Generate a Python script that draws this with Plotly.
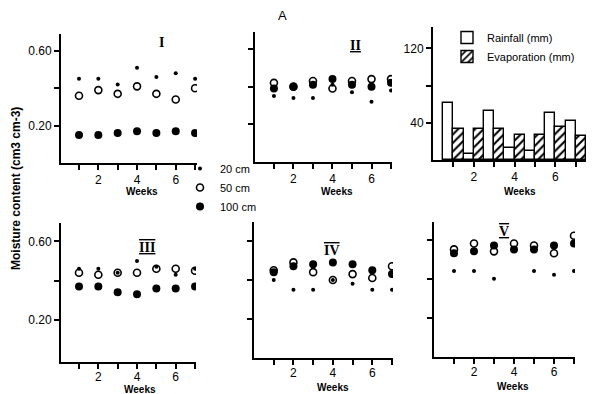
import plotly.graph_objects as go

# The page body has an 8 px default margin: the figure is sized to the
# remaining view, and reference pixel positions are shifted accordingly.
PAGE_W, PAGE_H, BODY = 599, 394, 8
W, H = PAGE_W - BODY, PAGE_H - BODY

weeks = [1, 2, 3, 4, 5, 6, 7]
week_ticks = [1, 2, 3, 4, 5, 6, 7]
week_ticktext = ["", "2", "", "4", "", "6", ""]

# Soil moisture (cm3 cm-3) per site, depth 20 / 50 / 100 cm
site_I_20 = [0.45, 0.45, 0.42, 0.51, 0.46, 0.48, 0.45]
site_I_50 = [0.36, 0.39, 0.37, 0.41, 0.37, 0.34, 0.40]
site_I_100 = [0.15, 0.15, 0.16, 0.17, 0.16, 0.17, 0.16]

site_II_20 = [0.35, 0.34, 0.34, 0.41, 0.37, 0.32, 0.38]
site_II_50 = [0.42, 0.40, 0.43, 0.39, 0.43, 0.44, 0.44]
site_II_100 = [0.39, 0.40, 0.41, 0.44, 0.41, 0.40, 0.42]

site_III_20 = [0.46, 0.46, 0.44, 0.50, 0.47, 0.43, 0.46]
site_III_50 = [0.44, 0.43, 0.44, 0.44, 0.46, 0.46, 0.45]
site_III_100 = [0.37, 0.37, 0.34, 0.33, 0.36, 0.36, 0.37]

site_IV_20 = [0.40, 0.35, 0.35, 0.40, 0.38, 0.35, 0.35]
site_IV_50 = [0.45, 0.49, 0.44, 0.40, 0.43, 0.41, 0.47]
site_IV_100 = [0.44, 0.47, 0.48, 0.49, 0.48, 0.45, 0.43]

site_V_20 = [0.44, 0.44, 0.40, None, 0.44, 0.42, 0.44]
site_V_50 = [0.55, 0.58, 0.54, 0.58, 0.57, 0.53, 0.62]
site_V_100 = [0.53, 0.54, 0.57, 0.55, 0.55, 0.57, 0.58]

rainfall = [61, 6, 53, 13, 10, 51, 42]
evaporation = [33, 33, 33, 27, 27, 36, 26]

moist_ticks = [0.2, 0.4, 0.6]
moist_ticktext = ["0.20", "", "0.60"]
rain_ticks = [40, 80, 120]
rain_ticktext = ["40", "", "120"]

site_labels = ["I", "II", "III", "IV", "V"]

FONT = "Liberation Sans"


def fx(a):
    return (a - BODY) / W


def fy(b):
    return 1 - (b - BODY) / H


def px_x(a, b):
    return [fx(a), fx(b)]


def px_y(top, bottom):
    return [fy(bottom), fy(top)]


# panel geometry (reference pixels): x-left, x-right, y-top, y-bottom
panels = {
    1: dict(x=(61, 197), y=(34, 163), xr=[0.07, 7.1], yr=[0, 0.69]),
    2: dict(x=(255, 392), y=(32, 162), xr=[0.03, 7.05], yr=[0, 0.69]),
    3: dict(x=(433, 586), y=(27, 160), xr=[0, 7.5], yr=[0, 143]),
    4: dict(x=(61, 196), y=(223, 362), xr=[0.07, 7.05], yr=[-0.016, 0.694]),
    5: dict(x=(254, 393), y=(222, 358), xr=[0.0, 7.05], yr=[0, 0.697]),
    6: dict(x=(434, 575), y=(222, 357), xr=[0.0, 7.05], yr=[0, 0.69]),
}

fig = go.Figure()

moist_sets = {
    1: (site_I_20, site_I_50, site_I_100),
    2: (site_II_20, site_II_50, site_II_100),
    4: (site_III_20, site_III_50, site_III_100),
    5: (site_IV_20, site_IV_50, site_IV_100),
    6: (site_V_20, site_V_50, site_V_100),
}

for k, (d20, d50, d100) in moist_sets.items():
    xa = "x" if k == 1 else f"x{k}"
    ya = "y" if k == 1 else f"y{k}"
    first = k == 1
    fig.add_trace(go.Scatter(
        x=weeks, y=d100, mode="markers", xaxis=xa, yaxis=ya,
        marker=dict(symbol="circle", size=8, color="black"),
        name="100 cm", legendgroup="100", showlegend=first, legend="legend", legendrank=3))
    fig.add_trace(go.Scatter(
        x=weeks, y=d50, mode="markers", xaxis=xa, yaxis=ya,
        marker=dict(symbol="circle-open", size=7, color="black", line=dict(width=1.6)),
        name="50 cm", legendgroup="50", showlegend=first, legend="legend", legendrank=2))
    fig.add_trace(go.Scatter(
        x=weeks, y=d20, mode="markers", xaxis=xa, yaxis=ya,
        marker=dict(symbol="circle", size=4, color="black"),
        name="20 cm", legendgroup="20", showlegend=first, legend="legend", legendrank=1))

fig.add_trace(go.Bar(
    x=weeks, y=rainfall, xaxis="x3", yaxis="y3", name="Rainfall (mm)",
    marker=dict(color="white", line=dict(color="black", width=1.4)),
    offsetgroup="r", legend="legend2"))
fig.add_trace(go.Bar(
    x=weeks, y=evaporation, xaxis="x3", yaxis="y3", name="Evaporation (mm)",
    marker=dict(color="white", line=dict(color="black", width=1.4),
                pattern=dict(shape="/", fgcolor="black", bgcolor="white", size=6, solidity=0.35)),
    offsetgroup="e", legend="legend2"))

axis_common = dict(showline=True, linecolor="black", linewidth=2, ticks="outside",
                   ticklen=5, tickwidth=1.5, tickcolor="black", showgrid=False,
                   zeroline=False, mirror=False, automargin=False,
                   tickfont=dict(family=FONT, size=12, color="black"))

layout = dict(
    template="none",
    width=W, height=H, margin=dict(l=0, r=0, t=0, b=0, pad=0, autoexpand=False),
    paper_bgcolor="white", plot_bgcolor="white",
    barmode="group", bargap=0, bargroupgap=0,
    font=dict(family=FONT, color="black"),
)

for k, p in panels.items():
    xk = "xaxis" if k == 1 else f"xaxis{k}"
    yk = "yaxis" if k == 1 else f"yaxis{k}"
    xa = "x" if k == 1 else f"x{k}"
    ya = "y" if k == 1 else f"y{k}"
    layout[xk] = dict(axis_common, domain=px_x(*p["x"]), range=p["xr"], anchor=ya,
                      tickvals=week_ticks, ticktext=week_ticktext, fixedrange=True,
                      ticklabelstandoff=-2 if k >= 4 else 0)
    if k == 3:
        layout[yk] = dict(axis_common, domain=px_y(*p["y"]), range=p["yr"], anchor=xa,
                          tickvals=rain_ticks, ticktext=rain_ticktext)
    else:
        layout[yk] = dict(axis_common, domain=px_y(*p["y"]), range=p["yr"], anchor=xa,
                          tickvals=moist_ticks, ticktext=moist_ticktext,
                          showticklabels=k in (1, 4))

fig.update_layout(**layout)

fig.update_layout(
    legend=dict(x=fx(180), y=fy(154), xanchor="left", yanchor="top",
                font=dict(family=FONT, size=11), bgcolor="rgba(0,0,0,0)",
                tracegroupgap=0, itemwidth=30, traceorder="normal"),
    legend2=dict(x=fx(447), y=fy(23), xanchor="left", yanchor="top",
                 font=dict(family=FONT, size=11), bgcolor="rgba(0,0,0,0)",
                 tracegroupgap=0, itemwidth=30, traceorder="normal"),
)

ann = []
# Weeks labels
for cx, cy in [(142, 192), (337, 192), (520, 191), (140, 389), (333, 387), (513, 386)]:
    ann.append(dict(x=fx(cx), y=fy(cy), xref="paper", yref="paper", text="<b>Weeks</b>",
                    xanchor="center", yanchor="middle",
                    showarrow=False, font=dict(family=FONT, size=10)))
# roman numerals (site labels), with the bars drawn over/under as in the original
decor = ["none", "underline", "overline underline", "overline", "overline underline"]
for txt, dec, cx, cy in zip(site_labels, decor, [161, 355, 147, 332, 504], [43, 45, 247, 250, 232]):
    ann.append(dict(x=fx(cx), y=fy(cy), xref="paper", yref="paper",
                    text=f'<span style="text-decoration:{dec}"><b>{txt}</b></span>',
                    xanchor="center", yanchor="middle",
                    showarrow=False, font=dict(family="Liberation Serif", size=14)))
ann.append(dict(x=fx(282), y=fy(16), xref="paper", yref="paper", text="A",
                xanchor="center", yanchor="middle",
                showarrow=False, font=dict(family=FONT, size=13)))
ann.append(dict(x=fx(16), y=fy(189), xref="paper", yref="paper",
                text="<b>Moisture content (cm3 cm-3)</b>", textangle=-90,
                xanchor="center", yanchor="middle",
                showarrow=False, font=dict(family=FONT, size=12)))
fig.update_layout(annotations=ann)

fig.write_html("out.html")
